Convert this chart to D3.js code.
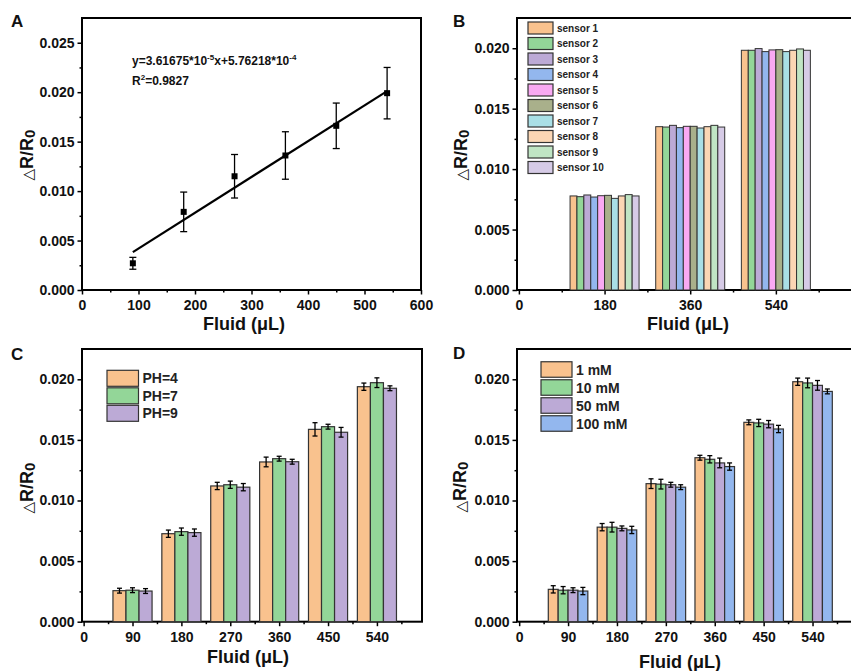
<!DOCTYPE html>
<html>
<head>
<meta charset="utf-8">
<script src="https://cdn.jsdelivr.net/npm/d3@7/dist/d3.min.js"></script>
<style>
  body { margin: 0; background: #fff; }
  svg { font-family: "Liberation Sans", Arial, sans-serif; font-weight: bold; }
</style>
</head>
<body>
<div id="chart"></div>
<script>
// panel A: linear fit
var fitX = [90, 180, 270, 360, 450, 540];
var fitY = [0.0027, 0.0079, 0.0115, 0.0136, 0.0166, 0.0199];
var fitErr = [0.0006, 0.0020, 0.0022, 0.0024, 0.0023, 0.0026];
var slope = 3.61675e-5, intercept = 5.76218e-4;
var fitRange = [90, 540];

// panel B: ten sensors
var sensorGroups = [180, 360, 540];
var sensorNames = ["sensor 1", "sensor 2", "sensor 3", "sensor 4", "sensor 5",
                   "sensor 6", "sensor 7", "sensor 8", "sensor 9", "sensor 10"];
var sensor180 = [0.00778, 0.00772, 0.00786, 0.00769, 0.0078, 0.00783, 0.00758, 0.00778, 0.00789, 0.00778];
var sensor360 = [0.01351, 0.01348, 0.01362, 0.01343, 0.01354, 0.01354, 0.0134, 0.01351, 0.01362, 0.01348];
var sensor540 = [0.01983, 0.01983, 0.01997, 0.01972, 0.01986, 0.01988, 0.01972, 0.01983, 0.01994, 0.01983];
var sensorColors = ["#f9c28e", "#93d698", "#bcaad6", "#93b7ee", "#f9a9f3",
                    "#a9b08b", "#a9dfe6", "#fbd6b4", "#c0e5c4", "#d6cbe6"];

// panel C: pH
var volumes = [90, 180, 270, 360, 450, 540];
var phNames = ["PH=4", "PH=7", "PH=9"];
var ph4 = [0.00256, 0.00726, 0.0112, 0.01318, 0.01587, 0.01939];
var ph7 = [0.0026, 0.00743, 0.0113, 0.01345, 0.01609, 0.01972];
var ph9 = [0.00253, 0.00735, 0.0111, 0.0132, 0.01563, 0.01926];
var ph4Err = [0.0002, 0.0003, 0.0003, 0.0004, 0.00055, 0.0003];
var ph7Err = [0.0002, 0.0003, 0.0003, 0.0002, 0.0002, 0.0004];
var ph9Err = [0.0002, 0.0003, 0.0003, 0.0002, 0.0004, 0.0002];
var phColors = ["#f9c28e", "#93d698", "#bcaad6"];

// panel D: concentration
var concNames = ["1 mM", "10 mM", "50 mM", "100 mM"];
var c1 = [0.00267, 0.0078, 0.01139, 0.01353, 0.01645, 0.0198];
var c10 = [0.0026, 0.0078, 0.01135, 0.0134, 0.0164, 0.0197];
var c50 = [0.0026, 0.0077, 0.0113, 0.0131, 0.0163, 0.0195];
var c100 = [0.00253, 0.00757, 0.0111, 0.0128, 0.0159, 0.0190];
var c1Err = [0.0003, 0.0003, 0.0004, 0.0002, 0.0002, 0.0003];
var c10Err = [0.0003, 0.0004, 0.0004, 0.0003, 0.0003, 0.0004];
var c50Err = [0.0002, 0.0002, 0.0002, 0.0004, 0.0003, 0.0004];
var c100Err = [0.0003, 0.0003, 0.0002, 0.0003, 0.0003, 0.0002];
var concColors = ["#f9c28e", "#93d698", "#bcaad6", "#93b7ee"];

var yTicks = [0, 0.005, 0.010, 0.015, 0.020];

var svg = d3.select("#chart").append("svg")
    .attr("width", 851)
    .attr("height", 671);

// draws frame + axes, returns scales
function makePanel(p) {
    var x = d3.scaleLinear().domain(p.xDomain).range([p.left, p.right]);
    var y = d3.scaleLinear().domain(p.yDomain).range([p.bottom, p.top]);
    var g = svg.append("g");

    // minor ticks
    g.append("g")
        .attr("transform", "translate(" + p.left + ",0)")
        .call(d3.axisLeft(y).tickValues(p.yMinor).tickSize(2.5).tickFormat(""))
        .call(function(a) { a.select(".domain").remove(); a.selectAll("line").attr("stroke-width", 1.5); });
    g.append("g")
        .attr("transform", "translate(0," + p.bottom + ")")
        .call(d3.axisBottom(x).tickValues(p.xMinor).tickSize(2.5).tickFormat(""))
        .call(function(a) { a.select(".domain").remove(); a.selectAll("line").attr("stroke-width", 1.5); });

    var ya = g.append("g")
        .attr("transform", "translate(" + p.left + ",0)")
        .call(d3.axisLeft(y).tickValues(p.yTicks).tickSize(4.5).tickPadding(3).tickFormat(d3.format(".3f")));
    var xa = g.append("g")
        .attr("transform", "translate(0," + p.bottom + ")")
        .call(d3.axisBottom(x).tickValues(p.xTicks).tickSize(4.5).tickPadding(6).tickFormat(d3.format("d")));
    [ya, xa].forEach(function(a) {
        a.select(".domain").remove();
        a.selectAll("line").attr("stroke-width", 1.5);
        a.selectAll("text").attr("font-family", "Liberation Sans, Arial")
            .attr("font-weight", "bold").attr("font-size", 14).attr("fill", "#111");
    });

    g.append("rect")
        .attr("x", p.left).attr("y", p.top)
        .attr("width", p.right - p.left).attr("height", p.bottom - p.top)
        .attr("fill", "none").attr("stroke", "#000").attr("stroke-width", 2);

    // panel letter
    g.append("text").attr("x", p.letterX).attr("y", p.letterY)
        .attr("font-size", 17).attr("fill", "#111").text(p.letter);

    // x title
    g.append("text").attr("x", p.xTitleX).attr("y", p.xTitleY)
        .attr("text-anchor", "middle").attr("font-size", 18).attr("fill", "#111")
        .text("Fluid (μL)");

    // y title
    var yt = g.append("text")
        .attr("transform", "translate(" + p.yTitleX + "," + p.yTitleY + ") rotate(-90)")
        .attr("text-anchor", "middle").attr("font-size", 18).attr("fill", "#111");
    yt.append("tspan").attr("font-weight", "normal").attr("font-family", "DejaVu Sans").attr("font-size", 15).text("△");
    yt.append("tspan").text("R/R");
    yt.append("tspan").attr("font-size", 15).attr("dy", 2).text("0");

    return {x: x, y: y, g: g};
}

function errorBars(g, x, y, cx, val, err, cap, width) {
    g.append("line").attr("x1", x(cx)).attr("x2", x(cx))
        .attr("y1", y(val - err)).attr("y2", y(val + err))
        .attr("stroke", "#000").attr("stroke-width", width);
    [val - err, val + err].forEach(function(v) {
        g.append("line").attr("x1", x(cx) - cap).attr("x2", x(cx) + cap)
            .attr("y1", y(v)).attr("y2", y(v))
            .attr("stroke", "#000").attr("stroke-width", width);
    });
}

// ---------- A ----------
var A = makePanel({
    left: 82, right: 421, top: 18, bottom: 290,
    xDomain: [0, 600], yDomain: [0, 0.0275],
    xTicks: [0, 100, 200, 300, 400, 500, 600], xMinor: [50, 150, 250, 350, 450, 550],
    yTicks: [0, 0.005, 0.010, 0.015, 0.020, 0.025], yMinor: [0.0025, 0.0075, 0.0125, 0.0175, 0.0225],
    letter: "A", letterX: 11, letterY: 27,
    xTitleX: 244, xTitleY: 330, yTitleX: 33, yTitleY: 155
});
A.g.append("line")
    .attr("x1", A.x(fitRange[0])).attr("y1", A.y(slope * fitRange[0] + intercept))
    .attr("x2", A.x(fitRange[1])).attr("y2", A.y(slope * fitRange[1] + intercept))
    .attr("stroke", "#000").attr("stroke-width", 2.2);
fitX.forEach(function(d, i) {
    errorBars(A.g, A.x, A.y, d, fitY[i], fitErr[i], 3.5, 1.3);
    A.g.append("rect")
        .attr("x", A.x(d) - 3).attr("y", A.y(fitY[i]) - 3)
        .attr("width", 6).attr("height", 6).attr("fill", "#000");
});
var eq = A.g.append("text").attr("x", 132).attr("y", 65).attr("font-size", 12).attr("fill", "#111");
eq.append("tspan").text("y=3.61675*10");
eq.append("tspan").attr("font-size", 8).attr("dy", -5).text("-5");
eq.append("tspan").attr("dy", 5).text("x+5.76218*10");
eq.append("tspan").attr("font-size", 8).attr("dy", -5).text("-4");
var r2 = A.g.append("text").attr("x", 132).attr("y", 85).attr("font-size", 12).attr("fill", "#111");
r2.append("tspan").text("R");
r2.append("tspan").attr("font-size", 8).attr("dy", -5).text("2");
r2.append("tspan").attr("dy", 5).text("=0.9827");

// ---------- B ----------
var B = makePanel({
    left: 517, right: 862, top: 18, bottom: 290,
    xDomain: [-4, 721], yDomain: [0, 0.0225],
    xTicks: [0, 180, 360, 540], xMinor: [90, 270, 450, 630],
    yTicks: yTicks, yMinor: [0.0025, 0.0075, 0.0125, 0.0175],
    letter: "B", letterX: 453, letterY: 27,
    xTitleX: 688, xTitleY: 330, yTitleX: 467, yTitleY: 155
});
var sensorValues = [sensor180, sensor360, sensor540];
var bw = 14.5;
sensorGroups.forEach(function(grp, gi) {
    B.g.selectAll(null).data(sensorValues[gi]).enter().append("rect")
        .attr("x", function(d, i) { return B.x(grp + (i - 5) * bw); })
        .attr("width", B.x(bw) - B.x(0))
        .attr("y", function(d) { return B.y(d); })
        .attr("height", function(d) { return B.y(0) - B.y(d); })
        .attr("fill", function(d, i) { return sensorColors[i]; })
        .attr("stroke", "#333").attr("stroke-width", 1);
});
var legB = B.g.append("g");
sensorNames.forEach(function(n, i) {
    var cy = 28 + i * 15.5;
    legB.append("rect").attr("x", 528).attr("y", cy - 6).attr("width", 25).attr("height", 12)
        .attr("fill", sensorColors[i]).attr("stroke", "#333").attr("stroke-width", 1.2);
    legB.append("text").attr("x", 557).attr("y", cy + 3.5).attr("font-size", 10).attr("fill", "#222").text(n);
});

// grouped bars with error bars
function groupedBars(P, series, errs, colors, w) {
    var n = series.length;
    series.forEach(function(vals, si) {
        vals.forEach(function(v, i) {
            var left = volumes[i] + (si - n / 2) * w;
            P.g.append("rect")
                .attr("x", P.x(left)).attr("width", P.x(w) - P.x(0))
                .attr("y", P.y(v)).attr("height", P.y(0) - P.y(v))
                .attr("fill", colors[si]).attr("stroke", "#333").attr("stroke-width", 1.2);
        });
    });
    series.forEach(function(vals, si) {
        vals.forEach(function(v, i) {
            errorBars(P.g, P.x, P.y, volumes[i] + (si - n / 2 + 0.5) * w, v, errs[si][i], 2.5, 1.3);
        });
    });
}

function barLegend(P, names, colors, x0, y0, step, bwid, bh) {
    names.forEach(function(n, i) {
        var cy = y0 + i * step;
        P.g.append("rect").attr("x", x0).attr("y", cy - bh / 2).attr("width", bwid).attr("height", bh)
            .attr("fill", colors[i]).attr("stroke", "#333").attr("stroke-width", 1.2);
        P.g.append("text").attr("x", x0 + bwid + 4).attr("y", cy + 5)
            .attr("font-size", 14).attr("fill", "#222").text(n);
    });
}

// ---------- C ----------
var C = makePanel({
    left: 82, right: 422, top: 349, bottom: 621.7,
    xDomain: [-3, 623], yDomain: [0, 0.0225],
    xTicks: [0, 90, 180, 270, 360, 450, 540], xMinor: [45, 135, 225, 315, 405, 495, 585],
    yTicks: yTicks, yMinor: [0.0025, 0.0075, 0.0125, 0.0175],
    letter: "C", letterX: 11, letterY: 360,
    xTitleX: 248, xTitleY: 663, yTitleX: 33, yTitleY: 488
});
groupedBars(C, [ph4, ph7, ph9], [ph4Err, ph7Err, ph9Err], phColors, 24);
barLegend(C, phNames, phColors, 107, 378.3, 17.5, 31.5, 16);

// ---------- D ----------
var D = makePanel({
    left: 517, right: 900, top: 349, bottom: 621.7,
    xDomain: [-4, 701], yDomain: [0, 0.0225],
    xTicks: [0, 90, 180, 270, 360, 450, 540], xMinor: [45, 135, 225, 315, 405, 495, 585],
    yTicks: yTicks, yMinor: [0.0025, 0.0075, 0.0125, 0.0175],
    letter: "D", letterX: 453, letterY: 359,
    xTitleX: 680, xTitleY: 668, yTitleX: 466, yTitleY: 487
});
groupedBars(D, [c1, c10, c50, c100], [c1Err, c10Err, c50Err, c100Err], concColors, 18.2);
barLegend(D, concNames, concColors, 541, 369.5, 18, 31, 15.5);
</script>
</body>
</html>
